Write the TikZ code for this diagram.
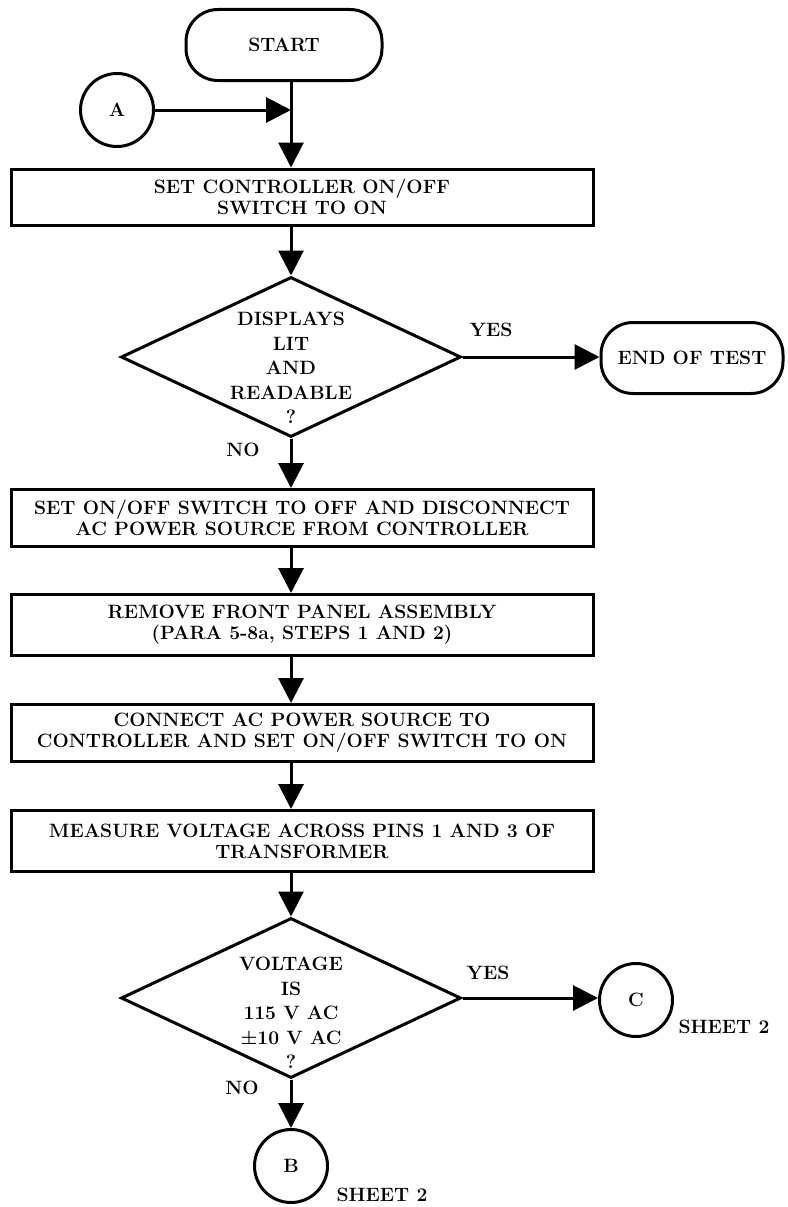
\documentclass[tikz,border=0pt]{standalone}
\usepackage{fontspec}
\usetikzlibrary{shapes.geometric, arrows.meta}

\tikzset{
  txt/.style={font=\fontsize{19.3}{21}\selectfont\bfseries, align=center, inner sep=0pt},
  dtxt/.style={font=\fontsize{19.3}{24.5}\selectfont\bfseries, align=center, inner sep=0pt},
  stepbox/.style={txt, draw, line width=3pt, minimum width=582pt},
  term/.style={txt, draw, line width=3pt, rounded corners=32pt},
  conn/.style={txt, draw, circle, line width=3pt, minimum size=73pt},
  decision/.style={draw, diamond, line width=3pt, minimum width=340pt, minimum height=160pt, inner sep=0pt},
  flow/.style={line width=3pt, -{Triangle[length=25pt, width=25pt]}},
}

\begin{document}
\begin{tikzpicture}[x=1pt, y=-1pt]
            \useasboundingbox (0,0) rectangle (787,1207);

            \node[term, minimum width=196pt, minimum height=71pt] (start) at (284,45) {START};
            \node[conn] (conA) at (117,110) {A};
            \coordinate (j) at (291,110);
            \node[stepbox, minimum height=56pt] (box1) at (302,197) {SET CONTROLLER ON/OFF\\SWITCH TO ON};

            \node[decision] (dec1) at (291,357) {};
            \node[dtxt] (dec1txt) at (291,368) {DISPLAYS\\LIT\\AND\\READABLE\\?};
            \node[txt] (yes1) at (491,330) {YES};
            \node[txt] (no1) at (243,450) {NO};
            \node[term, minimum width=182pt, minimum height=71pt] (endtest) at (692,358) {END OF TEST};

            \node[stepbox, minimum height=57pt] (box2) at (302,518) {SET ON/OFF SWITCH TO OFF AND DISCONNECT\\AC POWER SOURCE FROM CONTROLLER};
            \node[stepbox, minimum height=61pt] (box3) at (302,625) {REMOVE FRONT PANEL ASSEMBLY\\(PARA 5-8a, STEPS 1 AND 2)};
            \node[stepbox, minimum height=57pt] (box4) at (302,733) {CONNECT AC POWER SOURCE TO\\CONTROLLER AND SET ON/OFF SWITCH TO ON};
            \node[stepbox, minimum height=61pt] (box5) at (302,841) {MEASURE VOLTAGE ACROSS PINS 1 AND 3 OF\\TRANSFORMER};

            \node[decision] (dec2) at (291,998) {};
            \node[dtxt] (dec2txt) at (291,1013) {VOLTAGE\\IS\\115 V AC\\±10 V AC\\?};
            \node[txt] (yes2) at (488,973) {YES};
            \node[txt] (no2) at (242,1088) {NO};
            \node[conn] (conC) at (636,1000) {C};
            \node[txt] (sheetC) at (724,1027) {SHEET 2};
            \node[conn] (conB) at (291,1166) {B};
            \node[txt] (sheetB) at (382,1195) {SHEET 2};

            % connectors
            \draw[line width=3pt] (start.south -| j) -- (j);
            \draw[flow] (j) -- (j |- box1.north);
            \draw[flow] (conA) -- (j);
            \draw[flow] (box1.south -| dec1) -- (dec1.north);
            \draw[flow] (dec1.east) -- (dec1.east -| endtest.west);
            \draw[flow] (dec1.south) -- (dec1.south |- box2.north);
            \draw[flow] (box2.south -| dec1) -- (box3.north -| dec1);
            \draw[flow] (box3.south -| dec1) -- (box4.north -| dec1);
            \draw[flow] (box4.south -| dec1) -- (box5.north -| dec1);
            \draw[flow] (box5.south -| dec2) -- (dec2.north);
            \draw[flow] (dec2.east) -- (dec2.east -| conC.west);
            \draw[flow] (dec2.south) -- (conB.north);
\end{tikzpicture}
\end{document}
